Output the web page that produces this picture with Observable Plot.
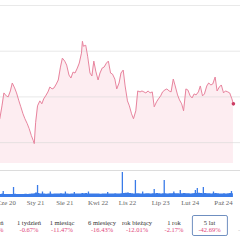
<!DOCTYPE html>
<html><head><meta charset="utf-8">
<script src="https://cdn.jsdelivr.net/npm/d3@7"></script>
<script src="https://cdn.jsdelivr.net/npm/@observablehq/plot@0.6"></script>
<style>
html,body{margin:0;padding:0;background:#fff;overflow:hidden;width:240px;height:240px}
#chart{position:relative;width:240px;height:240px;overflow:hidden;font-family:"Liberation Serif","DejaVu Serif",serif}
#chart svg{display:block;overflow:hidden}
.per{position:absolute;top:215px;height:21px;transform:translateX(-50%);text-align:center;font-size:6.5px;line-height:7.2px;white-space:nowrap;box-sizing:border-box;padding:3px 6px 0 6px;border:1px solid transparent;border-radius:2px}
.per .lab{color:#333}
.per .pct{color:#e0457a}
.per.sel{border-color:#6f8fc0}
.per.fade .lab,.per.fade .pct{color:#c4c4c4}
</style>
</head><body>
<div id="chart"></div>
<script>
const priceDates = ["2020-04-15","2020-05-01","2020-05-15","2020-06-01","2020-06-15","2020-07-01","2020-07-15","2020-08-01","2020-08-15","2020-09-01","2020-09-15","2020-10-01","2020-10-15","2020-11-01","2020-11-15","2020-12-01","2020-12-15","2020-12-22","2021-01-01","2021-01-15","2021-02-01","2021-02-15","2021-03-01","2021-03-15","2021-04-01","2021-04-15","2021-05-01","2021-05-15","2021-06-01","2021-06-15","2021-07-01","2021-07-15","2021-08-01","2021-08-15","2021-09-01","2021-09-15","2021-10-01","2021-10-15","2021-11-01","2021-11-15","2021-12-01","2021-12-08","2021-12-15","2022-01-01","2022-01-15","2022-02-01","2022-02-15","2022-03-01","2022-03-15","2022-04-01","2022-04-15","2022-05-01","2022-05-15","2022-06-01","2022-06-15","2022-07-01","2022-07-15","2022-08-01","2022-08-15","2022-09-01","2022-09-15","2022-10-01","2022-10-15","2022-11-01","2022-11-15","2022-12-01","2022-12-15","2023-01-01","2023-01-15","2023-02-01","2023-02-15","2023-03-01","2023-03-15","2023-04-01","2023-04-15","2023-05-01","2023-05-15","2023-06-01","2023-06-15","2023-07-01","2023-07-15","2023-08-01","2023-08-15","2023-09-01","2023-09-15","2023-10-01","2023-10-15","2023-11-01","2023-11-15","2023-12-01","2023-12-15","2024-01-01","2024-01-15","2024-02-01","2024-02-15","2024-03-01","2024-03-15","2024-04-01","2024-04-15","2024-05-01","2024-05-15","2024-06-01","2024-06-15","2024-07-01","2024-07-15","2024-08-01","2024-08-15","2024-09-01","2024-09-15","2024-10-01","2024-10-15","2024-11-01","2024-11-15","2024-12-01","2024-12-12"];
const priceValues = [20.22,23.04,25.87,25.22,25.00,26.30,28.04,26.96,25.87,24.13,22.83,21.30,20.22,19.13,18.04,16.52,15.43,14.78,19.35,23.04,24.13,23.48,24.57,25.22,26.09,27.17,26.74,26.96,27.83,28.70,31.52,33.48,32.83,31.96,29.78,29.13,30.43,30.22,31.30,32.39,34.57,37.17,36.09,36.30,33.91,30.22,29.57,32.83,30.65,28.70,30.22,31.30,31.52,32.39,32.83,30.22,30.00,28.91,26.74,28.04,30.22,30.87,27.39,24.13,23.04,21.30,20.22,21.96,26.30,26.09,26.30,26.09,25.87,26.30,25.87,26.09,22.83,23.91,24.57,25.22,26.09,26.52,26.74,26.30,26.09,28.91,27.39,25.43,24.35,23.48,21.96,26.74,26.52,25.22,24.78,25.65,25.43,26.09,27.39,25.22,25.65,27.39,28.04,27.61,27.83,29.35,26.30,27.17,27.61,25.87,26.30,26.09,25.87,24.57,23.48];
const volumeBase = [30,34,31,30,29,31,30,32,30,29,31,30,32,31,33,34,36,38,45,40,36,34,35,33,35,34,33,36,34,35,38,36,35,34,33,34,35,36,34,35,37,40,38,39,36,35,34,35,36,34,33,35,34,36,35,34,36,37,35,36,38,40,42,44,40,38,36,38,37,36,35,36,37,38,36,37,38,40,37,36,38,37,36,38,37,39,38,37,36,38,40,38,37,36,38,39,40,42,39,38,40,38,37,36,38,40,37,36,35,37,36,38,40,38,37];
const spikeDates = ["2020-05-10","2020-07-24","2021-01-15","2021-02-20","2021-04-18","2021-08-06","2021-10-10","2022-01-21","2022-06-10","2022-09-25","2022-12-29","2023-02-20","2023-05-15","2023-07-27","2023-10-05","2023-11-21","2024-03-10","2024-03-24","2024-05-07","2024-07-20","2024-11-28"];
const spikeValues = [60,100,120,55,55,55,50,55,50,250,170,55,80,170,55,70,70,90,100,55,60];
const gridValues = [15,25,35,45];
const axisDates = ["2020-06-01","2021-01-01","2021-08-01","2022-04-01","2022-11-01","2023-07-01","2024-02-01","2024-10-01"];
const axisLabels = ["Cze 20","Sty 21","Sie 21","Kwi 22","Lis 22","Lip 23","Lut 24","Paź 24"];
const periodLabels = ["1 dzień","1 tydzień","1 miesiąc","6 miesięcy","rok bieżący","1 rok","5 lat","max"];
const periodChanges = ["-0.38%","-0.67%","-11.47%","-16.43%","-12.01%","-2.17%","-42.69%","-19.81%"];
const selectedPeriod = "5 lat";

// layout
const periodCenters = [-6,29,62,102,137,174,209.5,249];

const price = priceDates.map((d,i)=>({date:new Date(d), v:priceValues[i], vol:volumeBase[i]}));
const spikes = spikeDates.map((d,i)=>({date:new Date(d), v:spikeValues[i]}));
const ticks = axisDates.map(d=>new Date(d));
const labelMap = new Map(ticks.map((d,i)=>[+d, axisLabels[i]]));
const xDomain = [price[0].date, price[price.length-1].date];
const xRange = [-0.7, 232.9];
const yMin = 10.43, yMax = 46.09;
const lineColor = "#e8849e", areaColor = "#fdedf1", blue = "#3a7be8";
const font = '"Liberation Serif","DejaVu Serif",serif';

const p1 = Plot.plot({
  width:240, height:166, margin:0,
  style:{fontFamily:font, background:"transparent"},
  x:{type:"utc", domain:xDomain, range:xRange, axis:null},
  y:{domain:[yMin,yMax], range:[163,0], axis:null},
  marks:[
    Plot.areaY(price,{x:"date", y1:yMin, y2:"v", fill:areaColor}),
    Plot.ruleY(gridValues,{stroke:"#d8d8d8", strokeOpacity:0.6, strokeWidth:1}),
    Plot.lineY(price,{x:"date", y:"v", stroke:lineColor, strokeWidth:1}),
    Plot.dot([price[price.length-1]],{x:"date", y:"v", r:1.8, fill:"#cc3d63"})
  ]
});

const p2 = Plot.plot({
  width:240, height:44, marginTop:4, marginBottom:13, marginLeft:0, marginRight:0,
  style:{fontFamily:font, background:"transparent"},
  x:{type:"utc", domain:xDomain, range:xRange, axis:null},
  y:{domain:[0,270], axis:null},
  marks:[
    Plot.ruleY([270],{stroke:"#dcdcdc"}),
    Plot.areaY(price,{x:"date", y:"vol", fill:blue, curve:"step-after"}),
    Plot.ruleX(spikes,{x:"date", y1:0, y2:"v", stroke:blue, strokeWidth:1.3}),
    Plot.axisX(ticks,{tickSize:0, tickPadding:3, tickFormat:d=>labelMap.get(+d), fontSize:6.8, fill:"#666"})
  ]
});

const root = document.getElementById("chart");
root.appendChild(p1);
root.appendChild(p2);
periodLabels.forEach((lab,i)=>{
  const el = document.createElement("div");
  el.className = "per" + (lab===selectedPeriod?" sel":"") + (i===periodLabels.length-1?" fade":"");
  el.style.left = periodCenters[i]+"px";
  el.innerHTML = `<div class="lab">${lab}</div><div class="pct">${periodChanges[i]}</div>`;
  root.appendChild(el);
});
</script>
</body></html>
